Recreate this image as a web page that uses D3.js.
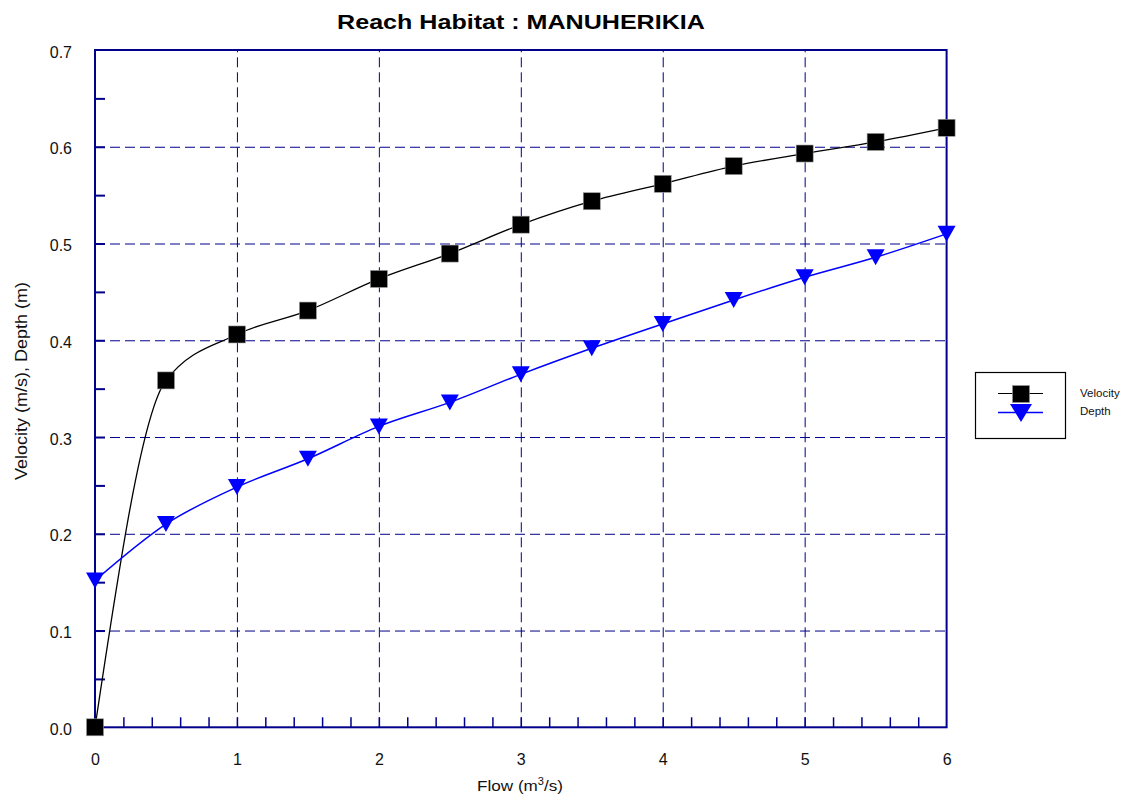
<!DOCTYPE html>
<html>
<head>
<meta charset="utf-8">
<script src="https://cdn.jsdelivr.net/npm/d3@7"></script>
<style>
  html, body { margin: 0; padding: 0; background: #fff; }
  svg { display: block; font-family: "Liberation Sans", Arial, Helvetica, sans-serif; }
</style>
</head>
<body>
<svg id="chart" width="1128" height="801"></svg>
<script>
// Flow steps (m3/s)
const flows = [0, 0.5, 1, 1.5, 2, 2.5, 3, 3.5, 4, 4.5, 5, 5.5, 6];
// Mean velocity (m/s) at each flow
const velocity = [0.0, 0.3585, 0.406, 0.4307, 0.4634, 0.4896, 0.5195, 0.5437, 0.5617, 0.580, 0.593, 0.605, 0.6196];
// Mean depth (m) at each flow
const depth = [0.1517, 0.210, 0.2483, 0.2775, 0.311, 0.3358, 0.3648, 0.3917, 0.4169, 0.4417, 0.4651, 0.4858, 0.510];

const xTicks = [0, 1, 2, 3, 4, 5, 6];
const yTicks = [0.0, 0.1, 0.2, 0.3, 0.4, 0.5, 0.6, 0.7];
const xMinor = d3.range(1, 30).map(i => i * 0.2).filter(v => Math.abs(v - Math.round(v)) > 1e-6);
const yMinor = [0.05, 0.15, 0.25, 0.35, 0.45, 0.55, 0.65];

const seriesNames = ["Velocity", "Depth"];
const titleText = "Reach Habitat : MANUHERIKIA";

const NAVY = "#00008b";
const BLUE = "#0000ff";

const svg = d3.select("#chart");
const plot = { left: 95, right: 946.6, top: 50, bottom: 727.3 };

const x = d3.scaleLinear().domain([0, 6]).range([plot.left, plot.right]);
const y = d3.scaleLinear().domain([0, 0.7]).range([plot.bottom, plot.top]);

// Horizontal dashed grid
svg.append("g")
  .attr("transform", `translate(${plot.left},0)`)
  .call(d3.axisLeft(y).tickValues([0.1, 0.2, 0.3, 0.4, 0.5, 0.6]).tickSize(-(plot.right - plot.left)).tickFormat(""))
  .call(g => g.select(".domain").remove())
  .call(g => g.selectAll("line").attr("stroke", NAVY).attr("stroke-width", 1).attr("stroke-dasharray", "10,5"));

// Vertical dashed grid
svg.append("g")
  .attr("transform", `translate(0,${plot.bottom})`)
  .call(d3.axisBottom(x).tickValues([1, 2, 3, 4, 5]).tickSize(-(plot.bottom - plot.top)).tickFormat(""))
  .call(g => g.select(".domain").remove())
  .call(g => g.selectAll("line").attr("stroke", NAVY).attr("stroke-width", 1).attr("stroke-dasharray", "10,5"));

// Inside ticks (minor and major)
svg.append("g")
  .attr("transform", `translate(${plot.left},0)`)
  .call(d3.axisLeft(y).tickValues(yMinor.concat([0.1, 0.2, 0.3, 0.4, 0.5, 0.6])).tickSize(-10).tickFormat(""))
  .call(g => g.select(".domain").remove())
  .call(g => g.selectAll("line").attr("stroke", NAVY).attr("stroke-width", 2));

svg.append("g")
  .attr("transform", `translate(0,${plot.bottom})`)
  .call(d3.axisBottom(x).tickValues(xMinor.concat([1, 2, 3, 4, 5])).tickSize(-10).tickFormat(""))
  .call(g => g.select(".domain").remove())
  .call(g => g.selectAll("line").attr("stroke", NAVY).attr("stroke-width", 1.5));

// Tick labels
svg.append("g")
  .attr("transform", `translate(${plot.left},2)`)
  .call(d3.axisLeft(y).tickValues(yTicks).tickSize(0).tickPadding(23).tickFormat(d3.format(".1f")))
  .call(g => g.select(".domain").remove())
  .call(g => g.selectAll("text").attr("font-size", 16).attr("fill", "#111").attr("font-family", null));

svg.append("g")
  .attr("transform", `translate(0,${plot.bottom})`)
  .call(d3.axisBottom(x).tickValues(xTicks).tickSize(0).tickPadding(26).tickFormat(d3.format("d")))
  .call(g => g.select(".domain").remove())
  .call(g => g.selectAll("text").attr("font-size", 16).attr("fill", "#111").attr("font-family", null));

// Plot frame
svg.append("rect")
  .attr("x", plot.left).attr("y", plot.top)
  .attr("width", plot.right - plot.left).attr("height", plot.bottom - plot.top)
  .attr("fill", "none").attr("stroke", NAVY).attr("stroke-width", 2);

// Curves
const velPts = flows.map((f, i) => [f, velocity[i]]);
const depPts = flows.map((f, i) => [f, depth[i]]);
const line = d3.line().x(d => x(d[0])).y(d => y(d[1])).curve(d3.curveMonotoneX);

svg.append("path").attr("d", line(velPts)).attr("fill", "none").attr("stroke", "#000").attr("stroke-width", 1.3);
svg.append("path").attr("d", line(depPts)).attr("fill", "none").attr("stroke", BLUE).attr("stroke-width", 1.5);

// Markers
const sq = 17;
svg.append("g").selectAll("rect").data(velPts).join("rect")
  .attr("x", d => x(d[0]) - sq / 2).attr("y", d => y(d[1]) - sq / 2)
  .attr("width", sq).attr("height", sq)
  .attr("fill", "#000").attr("stroke", "#999").attr("stroke-width", 0.6);

const tri = (cx, cy, w, h) => `M${cx - w / 2},${cy - h / 2}L${cx + w / 2},${cy - h / 2}L${cx},${cy + h / 2}Z`;
svg.append("g").selectAll("path").data(depPts).join("path")
  .attr("d", d => tri(x(d[0]), y(d[1]), 18, 16))
  .attr("fill", BLUE);

// Legend
const lg = svg.append("g");
lg.append("rect").attr("x", 975.5).attr("y", 372.5).attr("width", 90).attr("height", 66)
  .attr("fill", "#fff").attr("stroke", "#000").attr("stroke-width", 1.2);
lg.append("line").attr("x1", 998).attr("x2", 1043).attr("y1", 393.5).attr("y2", 393.5).attr("stroke", "#000").attr("stroke-width", 1);
lg.append("rect").attr("x", 1012.5).attr("y", 385.5).attr("width", sq).attr("height", sq).attr("fill", "#000").attr("stroke", "#999").attr("stroke-width", 0.6);
lg.append("line").attr("x1", 998).attr("x2", 1043).attr("y1", 412.5).attr("y2", 412.5).attr("stroke", BLUE).attr("stroke-width", 1.3);
lg.append("path").attr("d", tri(1021, 413, 22, 18)).attr("fill", BLUE);
lg.selectAll("text").data(seriesNames).join("text")
  .attr("x", 1080).attr("y", (d, i) => 396.5 + i * 18)
  .attr("font-size", 11.5).attr("fill", "#111").text(d => d);

// Scale a text element horizontally to a target width around its anchor
function fitWidth(sel, target, cx, cy, rotate) {
  const w = sel.node().getComputedTextLength();
  const s = target / w;
  sel.attr("transform", `translate(${cx},${cy})${rotate ? " rotate(-90)" : ""} scale(${s},1)`);
}

// Title
const title = svg.append("text").attr("text-anchor", "middle").attr("font-size", 20).attr("font-weight", "bold")
  .attr("fill", "#000").text(titleText);
fitWidth(title, 368, 521, 28.5, false);

// X axis title
const xt = svg.append("text").attr("text-anchor", "middle").attr("font-size", 15.5).attr("fill", "#111");
xt.append("tspan").text("Flow (m");
xt.append("tspan").attr("font-size", 10).attr("dy", -6).text("3");
xt.append("tspan").attr("dy", 6).text("/s)");
fitWidth(xt, 86, 520, 791, false);

// Y axis title
const yt = svg.append("text").attr("text-anchor", "middle").attr("font-size", 16).attr("fill", "#111")
  .text("Velocity (m/s), Depth (m)");
fitWidth(yt, 198, 27, 381, true);
</script>
</body>
</html>
